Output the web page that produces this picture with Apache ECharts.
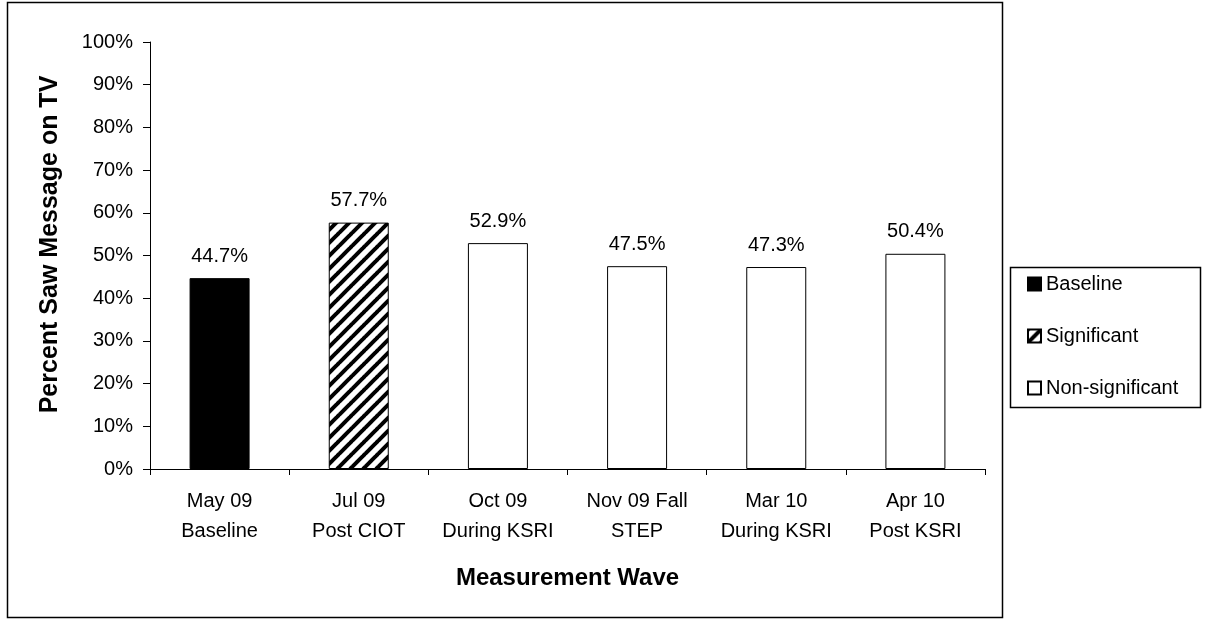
<!DOCTYPE html>
<html>
<head>
<meta charset="utf-8">
<script src="https://cdn.jsdelivr.net/npm/echarts@6/dist/echarts.min.js"></script>
<style>
html,body{margin:0;padding:0;background:#fff;}
#chart{width:1209px;height:619px;}
</style>
</head>
<body>
<div id="chart"></div>
<script>
// ---- data ----
var categories = ['May 09\nBaseline', 'Jul 09\nPost CIOT', 'Oct 09\nDuring KSRI', 'Nov 09 Fall\nSTEP', 'Mar 10\nDuring KSRI', 'Apr 10\nPost KSRI'];
var baselineValues = [44.7, '-', '-', '-', '-', '-'];
var significantValues = ['-', 57.7, '-', '-', '-', '-'];
var nonSignificantValues = ['-', '-', 52.9, 47.5, 47.3, 50.4];
var seriesNames = ['Baseline', 'Significant', 'Non-significant'];
var yTicks = [0, 10, 20, 30, 40, 50, 60, 70, 80, 90, 100];

// ---- hatch pattern ----
function makeHatch() {
  var s = 13;
  var c = document.createElement('canvas');
  c.width = s; c.height = s;
  var ctx = c.getContext('2d');
  ctx.fillStyle = '#fff';
  ctx.fillRect(0, 0, s, s);
  ctx.strokeStyle = '#000';
  ctx.lineWidth = 4;
  [-s, 0, s].forEach(function (o) {
    ctx.beginPath();
    ctx.moveTo(o - 1, s + 1);
    ctx.lineTo(o + s + 1, -1);
    ctx.stroke();
  });
  return c;
}
var hatch = { image: makeHatch(), repeat: 'repeat' };

var FONT = '"Liberation Sans", Arial, sans-serif';
var chart = echarts.init(document.getElementById('chart'));

var labelCfg = {
  show: true, position: 'top', distance: 12,
  fontFamily: FONT, fontSize: 20, color: '#000',
  formatter: function (p) { return p.value.toFixed(1) + '%'; }
};

function barSeries(name, data, color) {
  return {
    name: name, type: 'bar', data: data, barWidth: 60, barGap: '-100%',
    itemStyle: { color: color, borderColor: '#000', borderWidth: 1 },
    label: labelCfg, silent: true
  };
}

chart.setOption({
  animation: false,
  backgroundColor: '#fff',
  graphic: [
    { type: 'rect', shape: { x: 7.5, y: 2.5, width: 995, height: 615 },
      style: { fill: 'none', stroke: '#000', lineWidth: 1.5 }, z: -1 },
    { type: 'rect', shape: { x: 1010.5, y: 267.5, width: 190, height: 140 },
      style: { fill: '#fff', stroke: '#000', lineWidth: 1.5 }, z: -1 }
  ],
  grid: { left: 150, top: 42, right: 224, bottom: 150 },
  legend: {
    orient: 'vertical', left: 1027, top: 274, padding: 0,
    itemWidth: 13, itemHeight: 13, itemGap: 32,
    icon: 'rect',
    textStyle: { fontFamily: FONT, fontSize: 20, color: '#000' },
    data: seriesNames
  },
  xAxis: {
    type: 'category', data: categories,
    axisLine: { lineStyle: { color: '#000', width: 1 } },
    axisTick: { show: true, length: 6, lineStyle: { color: '#000' } },
    axisLabel: { fontFamily: FONT, fontSize: 20, color: '#000', margin: 17, lineHeight: 30, interval: 0 },
    name: 'Measurement Wave', nameLocation: 'middle', nameGap: 97,
    nameTextStyle: { fontFamily: FONT, fontSize: 24, fontWeight: 'bold', color: '#000' }
  },
  yAxis: {
    type: 'value', min: yTicks[0], max: yTicks[yTicks.length - 1], interval: 10,
    axisLine: { show: true, lineStyle: { color: '#000', width: 1 } },
    axisTick: { show: true, length: 7, lineStyle: { color: '#000' } },
    splitLine: { show: false },
    axisLabel: { fontFamily: FONT, fontSize: 20, color: '#000', margin: 17, formatter: '{value}%' },
    name: 'Percent Saw Message on TV', nameLocation: 'middle', nameGap: 87,
    nameTextStyle: { fontFamily: FONT, fontSize: 25, fontWeight: 'bold', color: '#000', padding: [0, 0, 0, 22] }
  },
  series: [
    barSeries(seriesNames[0], baselineValues, '#000'),
    barSeries(seriesNames[1], significantValues, hatch),
    barSeries(seriesNames[2], nonSignificantValues, '#fff')
  ]
});
</script>
</body>
</html>
